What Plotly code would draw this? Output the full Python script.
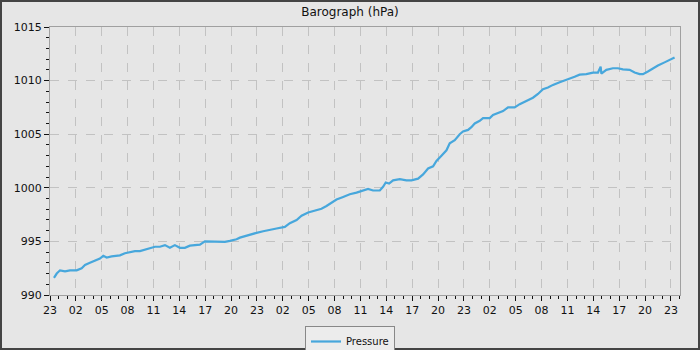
import plotly.graph_objects as go
import pandas as pd

# hours after 23:00 on the first day
hours = [0.46, 0.78, 1.16, 1.74, 2.32, 3.09, 3.67, 4.06, 4.63, 5.21, 5.79, 6.18, 6.57, 7.15,
         8.11, 8.69, 9.27, 9.85, 10.43, 11.01, 11.59, 12.17, 12.75, 13.33, 13.90, 14.48,
         15.06, 15.64, 16.22, 16.80, 17.38, 17.96, 18.54, 19.12, 19.70, 20.28, 20.86, 21.63,
         22.02, 22.40, 23.17, 23.95, 24.72, 25.49, 26.27, 27.23, 27.81, 28.59, 29.17, 29.93,
         30.71, 31.48, 32.06, 32.64, 33.22, 33.99, 34.76, 35.54, 36.30, 36.88, 37.46, 38.24,
         38.62, 38.93, 39.32, 39.78, 40.56, 41.33, 41.91, 42.68, 43.26, 43.84, 44.42, 44.81,
         45.39, 45.97, 46.35, 46.93, 47.51, 47.89, 48.47, 48.86, 49.25, 49.83, 50.21, 50.99,
         51.37, 51.95, 52.53, 53.11, 53.88, 54.46, 55.24, 56.00, 56.58, 57.16, 57.74, 58.32,
         59.10, 59.87, 60.83, 61.41, 62.19, 62.96, 63.54, 63.85, 63.93, 64.51, 65.27, 65.85,
         66.43, 67.21, 67.79, 68.37, 68.75, 69.33, 69.91, 70.49, 71.26, 71.84, 72.42]
pressure = [991.6, 992.0, 992.3, 992.2, 992.3, 992.3, 992.5, 992.8, 993.0, 993.2, 993.4, 993.65,
            993.5, 993.6, 993.7, 993.9, 994.0, 994.1, 994.1, 994.25, 994.4, 994.5, 994.5,
            994.65, 994.4, 994.65, 994.4, 994.4, 994.6, 994.65, 994.7, 995.0, 995.0, 995.0,
            995.0, 994.95, 995.05, 995.2, 995.35, 995.45, 995.65, 995.8, 995.95, 996.1, 996.2,
            996.35, 996.7, 997.0, 997.4, 997.7, 997.85, 998.05, 998.3, 998.6, 998.9, 999.15,
            999.4, 999.55, 999.75, 999.9, 999.75, 999.75, 1000.1, 1000.5, 1000.4, 1000.7,
            1000.8, 1000.7, 1000.7, 1000.85, 1001.25, 1001.8, 1002.0, 1002.5, 1003.0, 1003.5,
            1004.15, 1004.45, 1005.0, 1005.25, 1005.4, 1005.65, 1006.0, 1006.25, 1006.5,
            1006.5, 1006.8, 1007.0, 1007.15, 1007.5, 1007.5, 1007.8, 1008.1, 1008.4, 1008.75,
            1009.2, 1009.35, 1009.6, 1009.85, 1010.05, 1010.35, 1010.55, 1010.6, 1010.75,
            1010.75, 1011.3, 1010.65, 1011.0, 1011.15, 1011.15, 1011.05, 1011.0, 1010.75,
            1010.6, 1010.6, 1010.85, 1011.15, 1011.4, 1011.7, 1011.9, 1012.15]

start = pd.Timestamp("2024-03-01 23:00")
times = [start + pd.Timedelta(hours=h) for h in hours]
x_end = start + pd.Timedelta(hours=73.05)

W, H = 700, 350
ml, mr, mt, mb = 50, 20, 27, 55
pw, ph = W - ml - mr, H - mt - mb

font = dict(family="DejaVu Sans", size=11, color="#111")

fig = go.Figure()
fig.add_trace(go.Scatter(x=times, y=pressure, mode="lines", name="Pressure",
                         line=dict(color="#47a7dc", width=2.2)))

fig.update_layout(
    width=W, height=H,
    margin=dict(l=ml, r=mr, t=mt, b=mb, autoexpand=False),
    paper_bgcolor="#e6e6e6", plot_bgcolor="#e6e6e6",
    font=font,
    title=dict(text="Barograph (hPa)", x=0.5, xanchor="center", xref="container",
               y=1 - 12 / H, yanchor="middle", yref="container",
               font=dict(family="DejaVu Sans", size=12, color="#111")),
    showlegend=True,
    legend=dict(orientation="h", xref="container", yref="container",
                x=0.5, xanchor="center", y=(H - 326) / H, yanchor="top",
                bgcolor="#ececec", bordercolor="#888", borderwidth=1,
                itemwidth=30, tracegroupgap=0,
                font=dict(family="DejaVu Sans", size=10, color="#111")),
    xaxis=dict(type="date", range=[start, x_end], tick0=start, dtick=3 * 3600 * 1000,
               tickformat="%H", showgrid=True, gridcolor="#c2c2c2", griddash="dash",
               gridwidth=1, showline=True, linecolor="#a0a0a0", linewidth=1, mirror=True,
               ticks="outside", ticklen=5, tickcolor="#111", zeroline=False,
               automargin=False,
               minor=dict(dtick=3600 * 1000, ticks="outside", ticklen=3, tickcolor="#111",
                          showgrid=False)),
    yaxis=dict(range=[990, 1015], dtick=5, tick0=990, showgrid=True, gridcolor="#c2c2c2",
               griddash="dash", gridwidth=1, showline=True, linecolor="#a0a0a0", linewidth=1,
               mirror=True, ticks="outside", ticklen=5, tickcolor="#111", zeroline=False,
               automargin=False,
               minor=dict(dtick=1, ticks="outside", ticklen=3, tickcolor="#111",
                          showgrid=False)),
)

# outer frame around the whole image
fig.add_shape(type="rect", xref="paper", yref="paper",
              x0=-ml / pw, x1=1 + mr / pw, y0=-mb / ph, y1=1 + mt / ph,
              line=dict(color="#444444", width=4), layer="above")

fig.write_html("out.html")
